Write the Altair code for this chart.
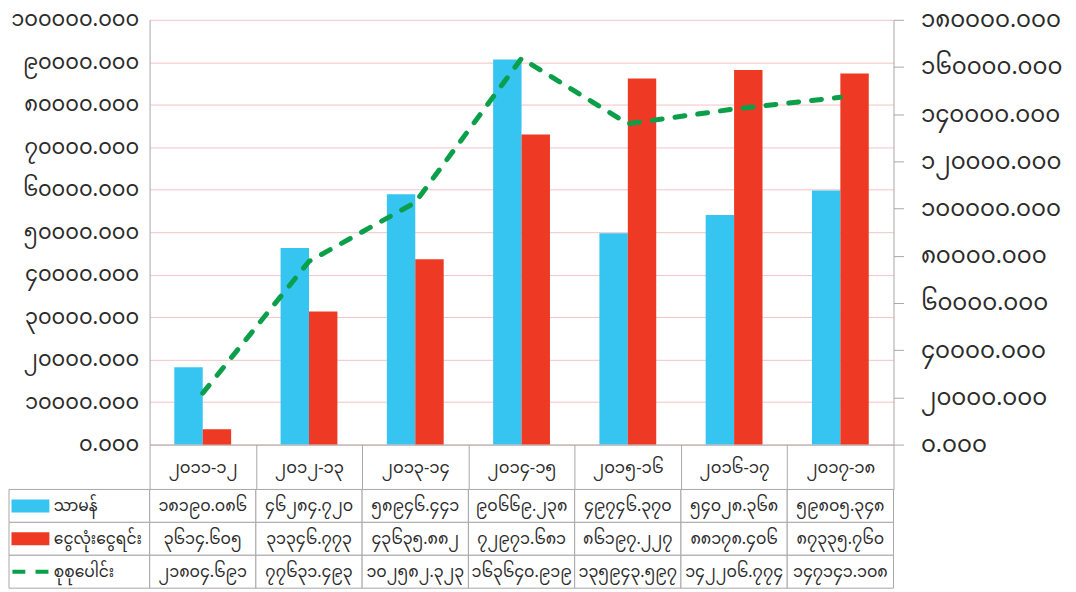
import altair as alt
import pandas as pd

MY_DIGITS = "၀၁၂၃၄၅၆၇၈၉"


def to_my(s):
    return s.translate(str.maketrans("0123456789", MY_DIGITS))


def my_expr(inner):
    e = inner
    for d in range(10):
        e = f"replace({e}, regexp('{d}', 'g'), '{MY_DIGITS[d]}')"
    return e


# ---------------- data ----------------
categories = ["၂၀၁၁-၁၂", "၂၀၁၂-၁၃", "၂၀၁၃-၁၄", "၂၀၁၄-၁၅", "၂၀၁၅-၁၆", "၂၀၁၆-၁၇", "၂၀၁၇-၁၈"]
series_names = ["သာမန်", "ငွေလုံးငွေရင်း", "စုစုပေါင်း"]
regular = [18190.086, 46284.720, 58946.441, 90669.238, 49746.370, 54028.368, 59805.348]
capital = [3614.605, 31346.773, 43635.882, 72971.681, 86197.227, 88178.406, 87335.760]
total = [21804.691, 77631.493, 102582.323, 163640.919, 135943.597, 142206.774, 147141.108]
left_ticks = [0, 10000, 20000, 30000, 40000, 50000, 60000, 70000, 80000, 90000, 100000]
right_ticks = [0, 20000, 40000, 60000, 80000, 100000, 120000, 140000, 160000, 180000]

# ---------------- styles ----------------
BLUE = "#36c5f0"
RED = "#ee3a24"
GREEN = "#0b9f4a"
PINK = "#f2c4c4"
GRAY = "#a8a8a8"
TXT = "#2b2b2b"
FONT = "Noto Sans Myanmar, Padauk, Myanmar Text, Noto Sans, DejaVu Sans"
RECT = "M-1,-0.342H1V0.342H-1Z"
DASH = "M-0.95,-0.11H-0.27V0.11H-0.95Z M0.27,-0.11H0.95V0.11H0.27Z"

bar_rows = []
for c, a, b in zip(categories, regular, capital):
    bar_rows.append({"cat": c, "series": series_names[0], "value": a})
    bar_rows.append({"cat": c, "series": series_names[1], "value": b})
bar_df = pd.DataFrame(bar_rows)
line_df = pd.DataFrame({"cat": categories, "total": total})

table_rows = []
for name, vals in zip(series_names, [regular, capital, total]):
    for c, v in zip(categories, vals):
        table_rows.append({"cat": c, "series": name, "label": to_my(f"{v:.3f}")})
table_df = pd.DataFrame(table_rows)
legend_df = pd.DataFrame({"series": series_names})

cat_scale = alt.Scale(domain=categories, paddingInner=0, paddingOuter=0)
color_scale = alt.Scale(domain=series_names, range=[BLUE, RED, GREEN])

header_axis = alt.Axis(
    title=None, orient="bottom", tickBand="extent", tickSize=45,
    tickColor=GRAY, domainColor=GRAY, labelAngle=0,
    labelBaseline="middle", labelPadding=-22.5, labelFont=FONT,
    labelFontSize=16.5, labelColor=TXT, labelOverlap=False,
)

# ---------------- top chart ----------------
bars = alt.Chart(bar_df).mark_bar().encode(
    x=alt.X("cat:N", scale=cat_scale, sort=categories, axis=header_axis),
    xOffset=alt.XOffset(
        "series:N",
        scale=alt.Scale(domain=series_names[:2], paddingInner=0, paddingOuter=0.87),
    ),
    y=alt.Y(
        "value:Q", scale=alt.Scale(domain=[0, 100000], nice=False, zero=True),
        axis=alt.Axis(
            title=None, orient="left", values=left_ticks,
            labelExpr=my_expr("format(datum.value, '.3f')"),
            grid=True, gridColor=PINK, gridWidth=1, ticks=False,
            domainColor=GRAY, labelPadding=11, labelFont=FONT,
            labelFontSize=21, labelColor=TXT, labelOverlap=False,
        ),
    ),
    color=alt.Color("series:N", scale=color_scale, legend=None),
)

line = alt.Chart(line_df).mark_line(
    color=GREEN, strokeWidth=5, strokeDash=[10, 13], strokeCap="round"
).encode(
    x=alt.X("cat:N", scale=cat_scale, sort=categories, axis=header_axis),
    y=alt.Y(
        "total:Q", scale=alt.Scale(domain=[0, 180000], nice=False, zero=True),
        axis=alt.Axis(
            title=None, orient="right", values=right_ticks,
            labelExpr=my_expr("format(datum.value, '.3f')"),
            grid=False, ticks=True, tickSize=10, tickColor=GRAY,
            domainColor=GRAY, labelPadding=17, labelFont=FONT,
            labelFontSize=23, labelColor=TXT, labelOverlap=False,
        ),
    ),
)

top = alt.layer(bars, line).resolve_scale(y="independent").properties(
    width=746, height=426
)

# ---------------- data table ----------------
y_enc = alt.Y(
    "series:N", sort=series_names,
    scale=alt.Scale(domain=series_names, paddingInner=0, paddingOuter=0),
    axis=None,
)
tx_enc = alt.X("cat:N", scale=cat_scale, sort=categories, axis=None)
leg_x = alt.X(
    "col:N",
    scale=alt.Scale(domain=["legend"], range=[-141, 0], paddingInner=0, paddingOuter=0),
    axis=None,
)

value_cells = alt.Chart(table_df).mark_rect(
    fill="white", stroke=GRAY, strokeWidth=1
).encode(x=tx_enc, y=y_enc)

vals = alt.Chart(table_df).mark_text(font=FONT, fontSize=16, color=TXT).encode(
    x=tx_enc, y=y_enc, text="label:N",
)

cells = alt.Chart(legend_df).transform_calculate(col="'legend'").mark_rect(
    fill="white", stroke=GRAY, strokeWidth=1
).encode(x=leg_x, y=y_enc)

swatches = alt.Chart(legend_df).transform_calculate(col="'legend'").mark_point(
    filled=True, opacity=1, size=1444, strokeWidth=0, xOffset=-49
).encode(
    x=leg_x, y=y_enc,
    color=alt.Color("series:N", scale=color_scale, legend=None),
    shape=alt.Shape(
        "series:N", scale=alt.Scale(domain=series_names, range=[RECT, RECT, DASH]),
        legend=None,
    ),
)

names = alt.Chart(legend_df).transform_calculate(col="'legend'").mark_text(
    align="left", dx=-25.5, font=FONT, fontSize=15.5, color=TXT
).encode(x=leg_x, y=y_enc, text="series:N")

table = alt.layer(value_cells, vals, cells, swatches, names).resolve_scale(
    x="independent"
).properties(width=746, height=99)

chart = alt.vconcat(top, table, spacing=45, bounds="flush").properties(
    padding={"top": 0, "left": 0, "right": 5, "bottom": 0}
).configure_view(stroke=None)

chart.save("out.html", embed_options={"renderer": "svg", "actions": False})
